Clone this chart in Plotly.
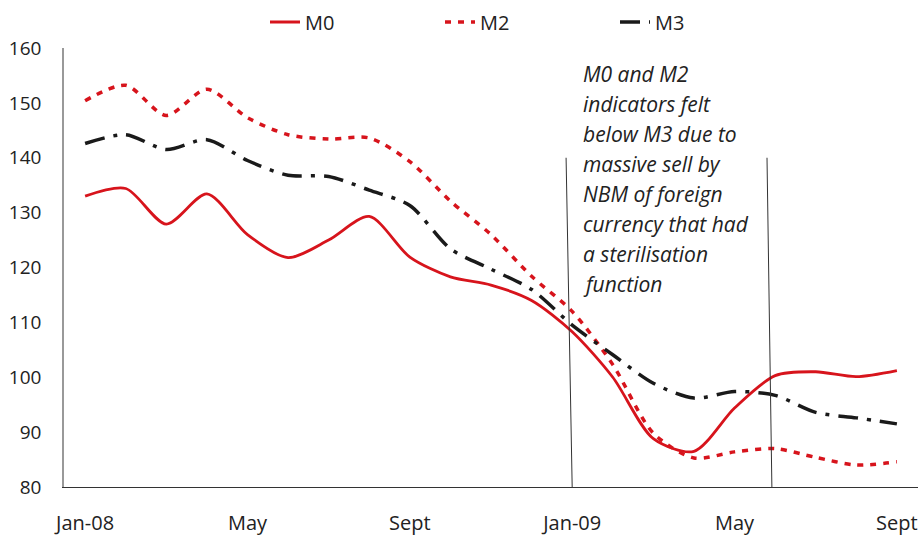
import plotly.graph_objects as go

# month index: 0 = Jan-08 ... 20 = Sept-09
months = list(range(21))
m0 = [133.0, 134.4, 127.9, 133.4, 126.0, 121.8, 125.0, 129.3, 121.9, 118.3, 116.8,
      114.0, 108.3, 100.0, 88.8, 86.5, 94.4, 100.3, 101.0, 100.1, 101.2]
m2 = [150.4, 153.2, 147.7, 152.5, 147.3, 144.2, 143.4, 143.6, 139.3, 132.1, 126.0,
      118.4, 112.0, 102.3, 89.8, 85.3, 86.4, 87.0, 85.4, 84.0, 84.6]
m3 = [142.6, 144.2, 141.5, 143.3, 139.5, 136.8, 136.6, 134.1, 131.3, 123.4, 119.7,
      116.0, 109.5, 104.1, 98.9, 96.2, 97.4, 96.7, 93.6, 92.6, 91.5]

tick_vals = [0, 4, 8, 12, 16, 20]
tick_text = ["Jan-08", "May", "Sept", "Jan-09", "May", "Sept"]

# event markers (top x, bottom x) in month units
event_lines = [(11.85, 12.0), (16.8, 16.92)]

note_lines = ["M0 and M2", "indicators felt", "below M3 due to", "massive sell by",
              "NBM of foreign", "currency that had", "a sterilisation", "function"]

RED = "#d7141c"
BLACK = "#1a1a1a"
FONT = "Open Sans"

fig = go.Figure()
fig.add_trace(go.Scatter(x=months, y=m0, name="M0", mode="lines",
                         line=dict(color=RED, width=2.8, shape="spline", smoothing=0.8)))
fig.add_trace(go.Scatter(x=months, y=m2, name="M2", mode="lines",
                         line=dict(color=RED, width=3.5, dash="6px,7px", shape="spline", smoothing=0.8)))
fig.add_trace(go.Scatter(x=months, y=m3, name="M3", mode="lines",
                         line=dict(color=BLACK, width=3.5, dash="20px,9px,4px,9px", shape="spline", smoothing=0.8)))

for xt, xb in event_lines:
    fig.add_shape(type="line", x0=xt, y0=140, x1=xb, y1=80, xref="x", yref="y",
                  line=dict(color="#333333", width=1))

for i, t in enumerate(note_lines):
    py = 74 + 30 * i
    fig.add_annotation(text=t, xref="paper", yref="paper",
                       x=(581 - 64) / 854, y=(487 - py) / 439,
                       xanchor="left", yanchor="middle", showarrow=False,
                       font=dict(family=FONT, size=21, color="#222222", style="italic"))

fig.update_layout(
    width=923, height=536,
    margin=dict(l=64, r=5, t=48, b=49, autoexpand=False),
    paper_bgcolor="white", plot_bgcolor="white",
    font=dict(family=FONT, size=20, color="#222222"),
    showlegend=True,
    legend=dict(orientation="h", x=(265 - 64) / 854, xanchor="left",
                y=1 + (48 - 22) / 439, yanchor="middle",
                entrywidth=130, entrywidthmode="pixels",
                font=dict(family=FONT, size=20, color="#222222"),
                bgcolor="rgba(0,0,0,0)"),
    xaxis=dict(range=[-0.52, 20.52], tickvals=tick_vals, ticktext=tick_text,
               showgrid=False, zeroline=False, showline=True, linecolor="#333333",
               linewidth=1, ticks="", ticklabelstandoff=18, automargin=False,
               tickfont=dict(family=FONT, size=20, color="#222222")),
    yaxis=dict(range=[80, 160], dtick=10, showgrid=False, zeroline=False,
               showline=True, linecolor="#999999", linewidth=1.5, ticks="",
               ticklabelstandoff=17, automargin=False,
               tickfont=dict(family=FONT, size=19, color="#222222")),
)

fig.write_html("out.html", config={"displayModeBar": False},
               post_script="document.body.style.margin='0px';document.body.style.overflow='hidden';")
